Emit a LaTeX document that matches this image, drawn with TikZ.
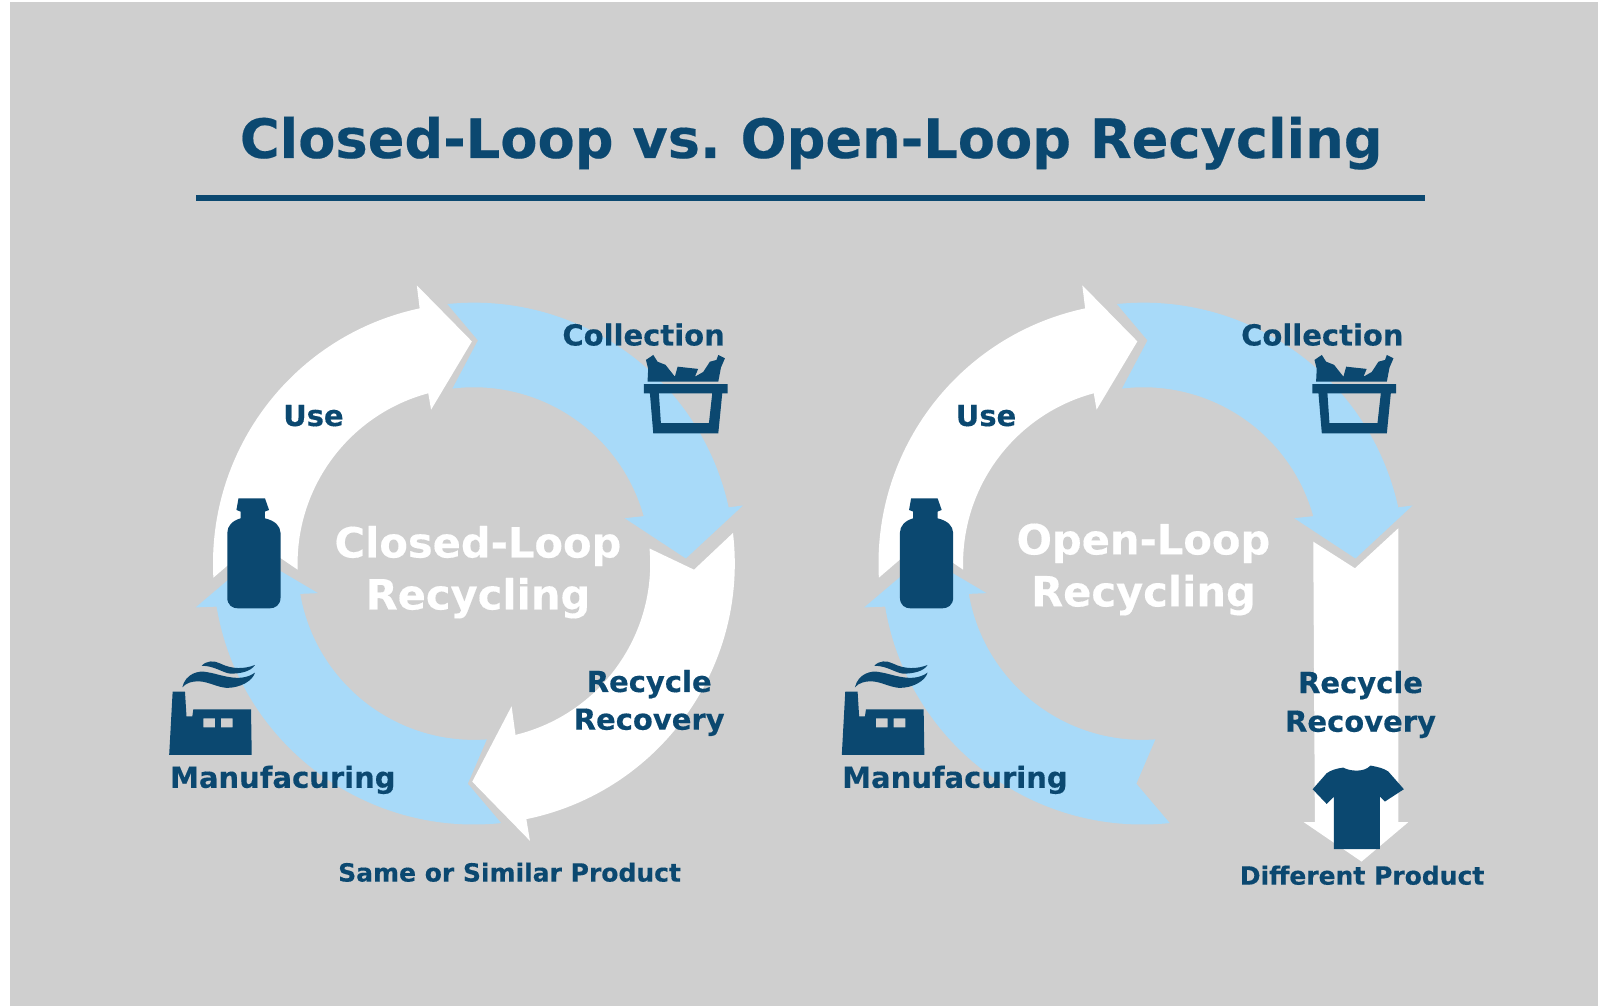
\documentclass[tikz,border=0pt]{standalone}
\usepackage{fontspec}
\setmainfont{DejaVu Sans}[BoldFeatures={FakeBold=0.35}]
\definecolor{bgc}{HTML}{CFCFCF}
\definecolor{navy}{HTML}{0B4870}
\definecolor{sky}{HTML}{A8DAF9}
\def\pol#1#2{([shift={(465,553)}]#1:#2)}
\def\useshape{\pol{176.9}{256} arc[start angle=176.9,end angle=258,radius=256] -- (409,280) -- (463,335) -- (423,402) -- \pol{255}{173} arc[start angle=255,end angle=178,radius=173] -- (251,531) -- cycle}
\def\collectshape{\pol{264.15}{256} arc[start angle=264.15,end angle=347.56,radius=256] -- (729,496) -- (673,548) -- (613,508.5) -- \pol{344.4}{173} arc[start angle=344.4,end angle=263,radius=173] -- (469,334) -- cycle}
\def\makeshape{\pol{84}{256} arc[start angle=84,end angle=170.5,radius=256] -- (192,596) -- (251,546) -- (312,582) -- \pol{170.1}{173} arc[start angle=170.1,end angle=85.8,radius=173] -- (459,769) -- cycle}
\def\bottle{(234,489) -- (260,489) -- (264,500.4) -- (260,502) -- (260,508.6) .. controls (270,511) and (275,516) .. (275.3,523) -- (275.3,586) .. controls (275.3,594) and (270,597) .. (264,597) -- (234,597) .. controls (228,597) and (223,594) .. (223,586) -- (223,523) .. controls (223,516) and (228,511) .. (236,508.6) -- (236,502) -- (232,500.4) -- cycle}
\def\factory{(166,740.8) -- (169.4,678.7) -- (181.5,678.7) -- (183,703) -- (188.7,703) -- (189.7,696) -- (246.3,696) -- (247,740.8) -- cycle
 (199.5,704.8) rectangle (211,713.7) (216.8,704.8) rectangle (228.3,713.7)}
\def\smoke{(178.9,674.4) .. controls (182,661) and (195,657.5) .. (203,659.5) .. controls (215,661) and (235,671) .. (250.2,660) .. controls (248,668) and (236,675) .. (222.4,675) .. controls (212,674) and (205,669) .. (195,668.5) .. controls (188,668.5) and (183,670) .. cycle
 (197.9,653.2) .. controls (203,648) and (210,648) .. (216,651) .. controls (228,657) and (240,656.5) .. (250.2,652.5) .. controls (246,659) and (236,661) .. (226,661) .. controls (218,660) and (211,653.5) .. cycle}
\def\basket{(631.8,376.8) -- (713.9,376.8) -- (713.9,385.9) -- (708.7,385.9) -- (704.8,425.2) -- (641,425.2) -- (637.7,385.9) -- (631.8,385.9) -- cycle
 (646.5,385.9) -- (648.5,415.3) -- (695.6,415.3) -- (698.9,385.9) -- cycle}
\def\bottles{(635.4,374.5) -- (636,362) -- (633.8,353.2) -- (641,348.3) -- (645.2,354.9) -- (653,358) -- (662.2,369.6) -- (664.9,359.8) -- (685,362) -- (681.9,369.6) -- (690,365) -- (696.6,354.9) -- (703,353.2) -- (704.8,348.3) -- (711.3,351.6) -- (707.4,360.7) -- (704.8,374.5) -- cycle}
\tikzset{lab/.style={text=navy,font=\fontsize{14.5}{17}\selectfont\bfseries,anchor=base,inner sep=0pt},
 biglab/.style={text=white,font=\fontsize{20.8}{24}\selectfont\bfseries,anchor=base,inner sep=0pt},
 prodlab/.style={text=navy,font=\fontsize{12.5}{15}\selectfont\bfseries,anchor=base,inner sep=0pt}}
\begin{document}
\begin{tikzpicture}[x=0.50957pt,y=-0.50957pt]
\useasboundingbox (0,0) rectangle (1568,987);
\fill[white] (0,0) rectangle (1568,987);
\fill[bgc] (10,2) rectangle (1568,987);
\node[text=navy,font=\fontsize{27.1}{32}\selectfont\bfseries,anchor=base,inner sep=0pt] (title) at (796,155) {Closed-Loop vs.\kern-2.6pt{} Open-Loop Recycling};
\fill[navy] (192,191.5) rectangle (1398,197);
% left cycle
\fill[sky] \makeshape;
\fill[white] \useshape;
\fill[sky] \collectshape;
\fill[white] \pol{-6.74}{256} arc[start angle=-6.74,end angle=78.4,radius=256] -- (520,825) -- (463.4,767) -- (502,693) -- \pol{76.35}{173} arc[start angle=76.35,end angle=-4.9,radius=173] -- (681,559) -- cycle;
% right cycle
\begin{scope}[shift={(656,0)}]
\fill[sky] \makeshape;
\end{scope}
\begin{scope}[shift={(653,0)}]
\fill[white] \useshape;
\end{scope}
\begin{scope}[shift={(657,0)}]
\fill[sky] \collectshape;
\end{scope}
\fill[white] (1288.6,531.5) -- (1329.5,557.6) -- (1372,518.4) -- (1372,806.8) -- (1381.8,806.8) -- (1336,845.4) -- (1279.4,806.8) -- (1290.2,806.8) -- cycle;
% icons left
\fill[navy] \bottle;
\fill[navy,even odd rule] \factory;
\fill[navy] \smoke;
\fill[navy,even odd rule] \basket;
\fill[navy] \bottles;
% icons right
\begin{scope}[shift={(660,0)}]
\fill[navy] \bottle;
\fill[navy,even odd rule] \factory;
\fill[navy] \smoke;
\end{scope}
\begin{scope}[shift={(656,0)}]
\fill[navy,even odd rule] \basket;
\fill[navy] \bottles;
\end{scope}
\fill[navy] (1318,753.2) .. controls (1324,756.5) and (1338,758.5) .. (1344.8,751.2) .. controls (1352,752.5) and (1358,754) .. (1362.2,757) -- (1377.5,774.4) -- (1358.9,786.5) -- (1354,781.6) -- (1354,833.3) -- (1308.9,833.3) -- (1308.9,781.6) -- (1301.7,788.8) -- (1288,774.4) -- (1301.7,758.8) .. controls (1306,755.5) and (1312,754) .. cycle;
% labels left
\node[lab] (col1) at (631.5,339) {Collection};
\node[lab] (use1) at (307.5,418) {Use};
\node[lab] (rec1) at (637,679) {Recycle};
\node[lab] (rcv1) at (637,716) {Recovery};
\node[lab] (man1) at (277.5,773) {Manufacuring};
\node[prodlab] (same) at (500,865) {Same or Similar Product};
\node[biglab] (cl) at (469,547) {Closed-Loop};
\node[biglab] (rc1) at (469,598) {Recycling};
% labels right
\node[lab] (col2) at (1297.5,339) {Collection};
\node[lab] (use2) at (967.5,418) {Use};
\node[lab] (rec2) at (1335,680) {Recycle};
\node[lab] (rcv2) at (1335,718) {Recovery};
\node[lab] (man2) at (937,773) {Manufacuring};
\node[prodlab] (diff) at (1336.5,868) {Different Product};
\node[biglab] (ol) at (1122,544) {Open-Loop};
\node[biglab] (rc2) at (1122,595) {Recycling};
\end{tikzpicture}
\end{document}
